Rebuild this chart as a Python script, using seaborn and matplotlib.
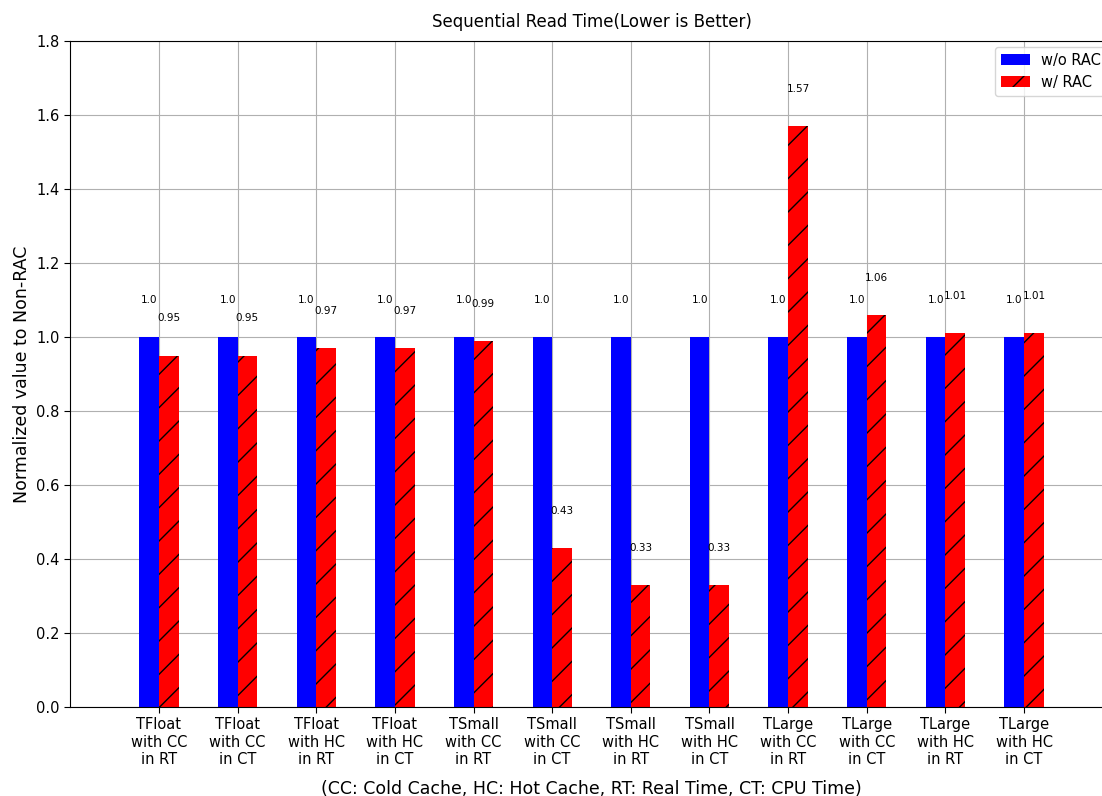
import numpy as np
import pandas as pd
import matplotlib
matplotlib.use("Agg")
import matplotlib.pyplot as plt
import seaborn as sns

categories = [
    "TFloat\nwith CC\nin RT", "TFloat\nwith CC\nin CT", "TFloat\nwith HC\nin RT", "TFloat\nwith HC\nin CT",
    "TSmall\nwith CC\nin RT", "TSmall\nwith CC\nin CT", "TSmall\nwith HC\nin RT", "TSmall\nwith HC\nin CT",
    "TLarge\nwith CC\nin RT", "TLarge\nwith CC\nin CT", "TLarge\nwith HC\nin RT", "TLarge\nwith HC\nin CT",
]
without_rac = [1.0] * 12
with_rac = [0.95, 0.95, 0.97, 0.97, 0.99, 0.43, 0.33, 0.33, 1.57, 1.06, 1.01, 1.01]
series_names = ["w/o RAC", "w/ RAC"]
yticks = [0.0, 0.2, 0.4, 0.6, 0.8, 1.0, 1.2, 1.4, 1.6, 1.8]

df = pd.DataFrame({
    "category": categories * 2,
    "value": without_rac + with_rac,
    "series": [series_names[0]] * 12 + [series_names[1]] * 12,
})

sns.set_style("ticks", {"axes.grid": True, "grid.color": "#b0b0b0", "axes.edgecolor": "black",
                        "text.color": "black", "axes.labelcolor": "black",
                        "xtick.color": "black", "ytick.color": "black"})
plt.rcParams["hatch.color"] = "black"
plt.rcParams["hatch.linewidth"] = 1.0
plt.rcParams["font.family"] = ["DejaVu Sans"]

fig = plt.figure(figsize=(11.02, 7.96), dpi=100)
ax = fig.add_axes([0.0635, 0.1118, 0.9465, 0.8367])

sns.barplot(data=df, x="category", y="value", hue="series", order=categories,
            hue_order=series_names, palette=["#0000ff", "#ff0000"], width=0.5,
            saturation=1, linewidth=0, errorbar=None, ax=ax, legend=False)

for p in ax.containers[0].patches:
    p.set_edgecolor("none")
    p.set_linewidth(0)
for p in ax.containers[1].patches:
    p.set_hatch("/")
    p.set_edgecolor("black")
    p.set_linewidth(0)

# value annotations above each bar
for cont, vals in zip(ax.containers, [without_rac, with_rac]):
    for p, v in zip(cont.patches, vals):
        txt = "1.0" if v == 1.0 else f"{v:.2f}"
        ax.text(p.get_x() + p.get_width() / 2, v + 0.1, txt, ha="center", va="center",
                fontsize=7.5, color="black")

ax.set_xlim(-1.13, 12.13)
ax.set_ylim(0, 1.8)
ax.set_yticks(yticks)
ax.set_yticklabels([f"{t:.1f}" for t in yticks])
ax.tick_params(axis="both", labelsize=10.5, length=4, color="black", labelcolor="black",
               direction="out")
ax.grid(True, color="#b0b0b0", linewidth=0.8)
ax.set_axisbelow(True)
for s in ax.spines.values():
    s.set_color("black")
    s.set_linewidth(0.8)

ax.set_title("Sequential Read Time(Lower is Better)", fontsize=12, color="black", pad=10)
ax.set_ylabel("Normalized value to Non-RAC", fontsize=12.5, color="black")
ax.set_xlabel("(CC: Cold Cache, HC: Hot Cache, RT: Real Time, CT: CPU Time)", fontsize=12.5,
              labelpad=9, color="black")

ax.legend(handles=[ax.containers[0], ax.containers[1]], labels=series_names,
          loc="upper right", fontsize=10.5, frameon=True, handleheight=0.8, handlelength=2.0,
          borderaxespad=0.4)

fig.savefig("out.png", dpi=100)
